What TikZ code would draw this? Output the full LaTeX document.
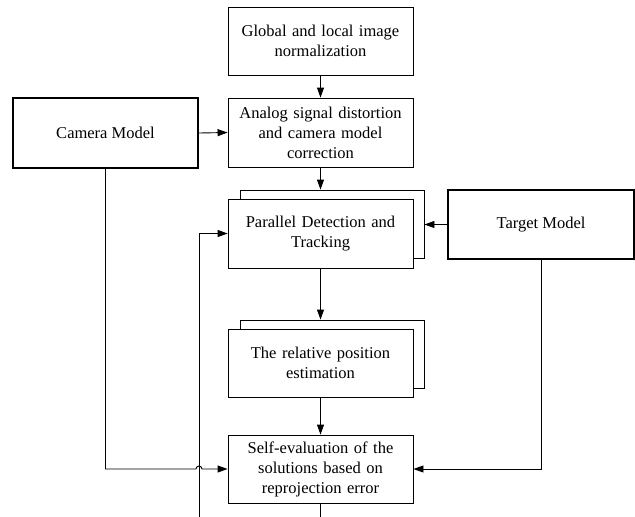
\documentclass[tikz,border=0pt]{standalone}
\usepackage{fontspec}
\setmainfont{Liberation Serif}
\usetikzlibrary{arrows.meta}
\begin{document}
\begin{tikzpicture}[x=1pt,y=1pt,
  every node/.style={font=\fontsize{16.5}{20}\selectfont},
  procbox/.style={draw,line width=0.9pt,fill=white,minimum width=185pt,minimum height=68pt,align=center,inner sep=2pt,text width=180pt},
  modelbox/.style={draw,line width=2.4pt,fill=white,minimum width=185pt,minimum height=69pt,align=center,inner sep=2pt},
  conn/.style={line width=0.9pt},
  arr/.style={line width=0.9pt,-{Triangle[length=10pt,width=7pt]}}]
\useasboundingbox (0,0) rectangle (635,-517);
% boxes
\node[procbox] (norm) at (320.5,-41) {Global and local image\\normalization};
\node[procbox,minimum height=69pt] (corr) at (320.5,-132.5) {Analog signal distortion\\and camera model\\correction};
\node[modelbox,minimum height=70pt] (cam) at (105.5,-133) {Camera Model};
\node[procbox,minimum width=184pt] (pdtback) at (332,-224) {};
\node[procbox,minimum height=69pt] (pdt) at (320.5,-233.5) {Parallel Detection and\\Tracking};
\node[modelbox,minimum width=186pt] (tgt) at (541,-224.5) {Target Model};
\node[procbox,minimum width=184pt] (relback) at (332,-354) {};
\node[procbox] (rel) at (320.5,-363) {The relative position\\estimation};
\node[procbox] (self) at (320.5,-469) {Self-evaluation of the\\solutions based on\\reprojection error};
% free ends
\coordinate (selfout) at (320.5,-517);
\coordinate (fbin) at (199,-517);
\coordinate (tgtout) at (640,-224.5);
% connectors
\draw[arr] (norm.south) -- (corr.north);
\draw[arr] (cam.east) -- (corr.west);
\draw[arr] (corr.south) -- (corr.south |- pdtback.north);
\draw[arr] (tgt.west) -- (tgt.west -| pdtback.east);
\draw[conn] (tgt.east) -- (tgtout);
\draw[arr] (pdt.south) -- (pdt.south |- relback.north);
\draw[arr] (rel.south) -- (self.north);
\draw[conn] (self.south) -- (selfout);
\draw[arr] (fbin) -- (fbin |- pdt.west) -- (pdt.west);
\draw[arr] (cam.south) -- (cam.south |- self.west) -- (196,-469) arc[start angle=180,end angle=0,radius=3] -- (self.west);
\draw[arr] (tgt.south) -- (tgt.south |- self.east) -- (self.east);
\end{tikzpicture}
\end{document}
